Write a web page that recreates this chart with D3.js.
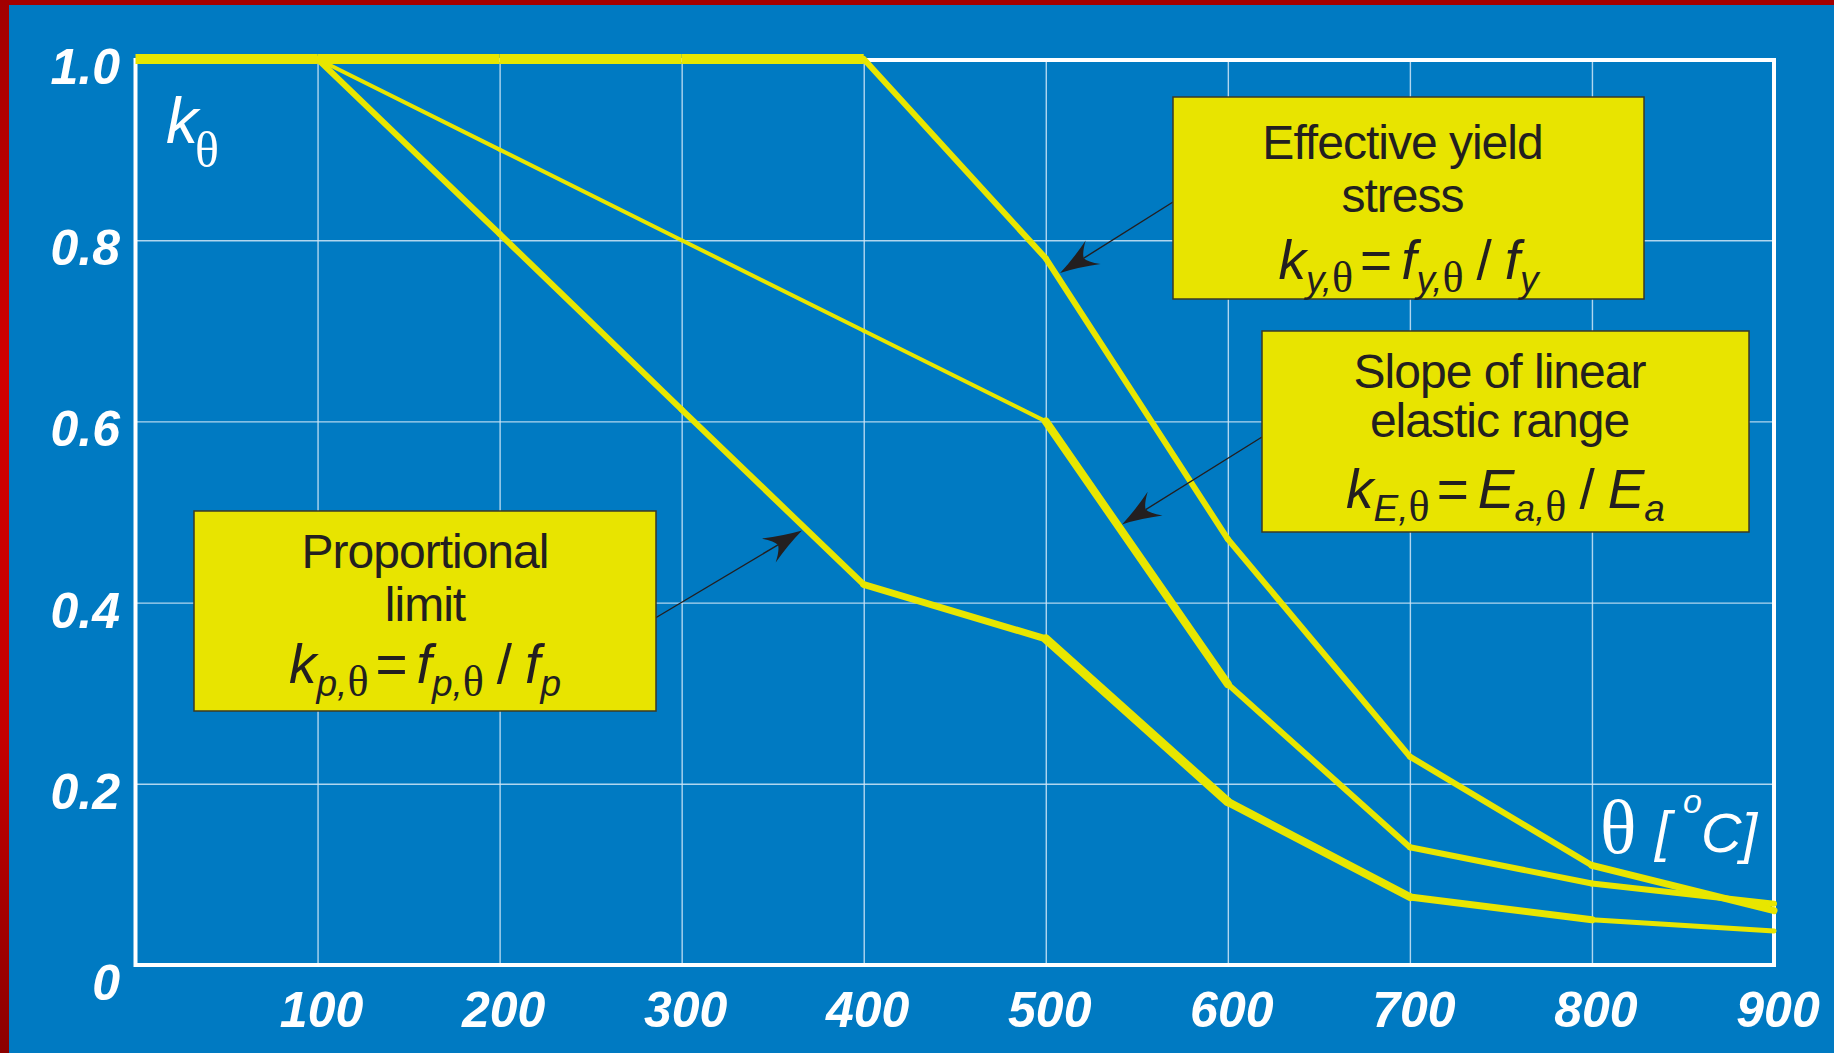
<!DOCTYPE html>
<html>
<head>
<meta charset="utf-8">
<script src="https://cdn.jsdelivr.net/npm/d3@7"></script>
<style>
  html, body { margin: 0; padding: 0; background: #007ac2; overflow: hidden; }
  svg { display: block; }
</style>
</head>
<body>
<svg id="chart" width="1834" height="1053"></svg>
<script>
// Reduction factors for carbon steel at elevated temperature
const tempYield   = [0, 100, 200, 300, 400, 500, 600, 700, 800, 900];
const kYield      = [1.0, 1.0, 1.0, 1.0, 1.0, 0.78, 0.47, 0.23, 0.11, 0.06];

const tempSteel   = [100, 200, 300, 400, 500, 600, 700, 800, 900];
const kElastic    = [1.0, 0.9, 0.8, 0.7, 0.6, 0.31, 0.13, 0.09, 0.0675];
const kProp       = [1.0, 0.807, 0.613, 0.42, 0.36, 0.18, 0.075, 0.05, 0.0375];

const xTicks      = [100, 200, 300, 400, 500, 600, 700, 800, 900];
const xTickLabels = ["100", "200", "300", "400", "500", "600", "700", "800", "900"];
const yTicks      = [0, 0.2, 0.4, 0.6, 0.8, 1.0];
const yTickLabels = ["0", "0.2", "0.4", "0.6", "0.8", "1.0"];

// Temperatures at which the callout arrows touch their curves
const arrowTempYield   = 506;
const arrowTempElastic = 540;
const arrowTempProp    = 368;

// Stroke widths of the individual curve segments
const widthYield   = [10, 10, 10, 10, 6, 6, 6, 6, 7];
const widthElastic = [4, 4, 4, 4, 8, 6, 6, 6];
const widthProp    = [6, 6, 6, 7, 9, 8, 7, 5];

const W = 1834, H = 1053;
const plotLeft = 135.5, plotRight = 1774, plotTop = 59, plotBottom = 965;

const BLUE = "#007ac2", YELLOW = "#e8e600", BOXFILL = "#e8e400", INK = "#231f20";

const svg = d3.select("#chart");
const x = d3.scaleLinear().domain([0, 900]).range([plotLeft, plotRight]);
const y = d3.scaleLinear().domain([0, 1]).range([plotBottom, plotTop]);

// background and red edge
const defs = svg.append("defs");
const grad = defs.append("linearGradient").attr("id", "edge")
  .attr("x1", 0).attr("y1", 0).attr("x2", 0).attr("y2", 1);
grad.append("stop").attr("offset", "0%").attr("stop-color", "#a20000");
grad.append("stop").attr("offset", "35%").attr("stop-color", "#d10000");
grad.append("stop").attr("offset", "70%").attr("stop-color", "#c40000");
grad.append("stop").attr("offset", "100%").attr("stop-color", "#8c0000");

svg.append("rect").attr("width", W).attr("height", H).attr("fill", BLUE);
svg.append("rect").attr("x", 0).attr("y", 0).attr("width", W).attr("height", 5).attr("fill", "#a50000");
svg.append("rect").attr("x", 0).attr("y", 0).attr("width", 9).attr("height", H).attr("fill", "url(#edge)");

// grid
const gridX = svg.append("g").attr("transform", `translate(0,${plotBottom})`)
  .call(d3.axisBottom(x).tickValues(xTicks.slice(0, -1)).tickSize(-(plotBottom - plotTop)).tickFormat(""));
const gridY = svg.append("g").attr("transform", `translate(${plotLeft},0)`)
  .call(d3.axisLeft(y).tickValues(yTicks.slice(1, -1)).tickSize(-(plotRight - plotLeft)).tickFormat(""));
[gridX, gridY].forEach(g => {
  g.select(".domain").remove();
  g.selectAll("line").attr("stroke", "#cfe6f7").attr("stroke-width", 1.4).attr("stroke-opacity", 0.85);
});

// plot frame
svg.append("rect").attr("x", plotLeft).attr("y", plotTop + 1)
  .attr("width", plotRight - plotLeft).attr("height", plotBottom - plotTop - 1)
  .attr("fill", "none").attr("stroke", "#ffffff").attr("stroke-width", 4);

// curves, segment by segment
const line = d3.line().x(d => x(d[0])).y(d => y(d[1]));
function drawCurve(temps, vals, widths) {
  const segs = d3.pairs(d3.zip(temps, vals));
  svg.append("g").selectAll("path").data(segs).join("path")
    .attr("d", d => line(d))
    .attr("fill", "none")
    .attr("stroke", YELLOW)
    .attr("stroke-width", (d, i) => widths[i])
    .attr("stroke-linecap", d => d[0][1] === d[1][1] ? "butt" : "round")
    .attr("stroke-linejoin", "round");
}
drawCurve(tempSteel, kElastic, widthElastic);
drawCurve(tempSteel, kProp, widthProp);
drawCurve(tempYield, kYield, widthYield);

// tick labels
const tickFont = { "font-family": "Liberation Sans, Arial, sans-serif", "font-weight": "bold", "font-style": "italic", "font-size": 50, "fill": "#ffffff" };
function applyAttrs(sel, o) { Object.entries(o).forEach(([k, v]) => sel.attr(k, v)); return sel; }

applyAttrs(svg.append("g").selectAll("text").data(yTicks).join("text"), tickFont)
  .attr("x", 120)
  .attr("y", d => y(d) + (d === 0 ? 35 : 25))
  .attr("text-anchor", "end")
  .text((d, i) => yTickLabels[i]);

applyAttrs(svg.append("g").selectAll("text").data(xTicks).join("text"), tickFont)
  .attr("x", d => x(d) + 4)
  .attr("y", plotBottom + 62)
  .attr("text-anchor", "middle")
  .text((d, i) => xTickLabels[i]);

// axis titles
const kTitle = svg.append("text").attr("fill", "#fff");
kTitle.append("tspan").attr("x", 166).attr("y", 143)
  .attr("font-family", "Liberation Sans, Arial, sans-serif").attr("font-style", "italic").attr("font-size", 64).text("k");
kTitle.append("tspan").attr("x", 195).attr("y", 167)
  .attr("font-family", "Liberation Serif, Times New Roman, serif").attr("font-size", 50).text("θ");

svg.append("text").attr("x", 1600).attr("y", 853).attr("fill", "#fff")
  .attr("font-family", "Liberation Serif, Times New Roman, serif").attr("font-size", 76).text("θ");
const unitFont = { "font-family": "Liberation Sans, Arial, sans-serif", "font-style": "italic", "fill": "#fff" };
applyAttrs(svg.append("text"), unitFont).attr("x", 1655).attr("y", 850).attr("font-size", 56).text("[");
applyAttrs(svg.append("text"), unitFont).attr("x", 1683).attr("y", 813).attr("font-size", 34).text("o");
applyAttrs(svg.append("text"), unitFont).attr("x", 1701).attr("y", 852).attr("font-size", 56).text("C]");

// callout arrows
function interp(temps, vals, t) {
  return d3.scaleLinear().domain(temps).range(vals)(t);
}
function arrow(x0, y0, t, temps, vals) {
  let x1 = x(t), y1 = y(interp(temps, vals, t));
  const dx = x1 - x0, dy = y1 - y0, len = Math.hypot(dx, dy);
  const ux = dx / len, uy = dy / len;
  x1 -= ux * 4; y1 -= uy * 4;
  const ang = Math.atan2(dy, dx) * 180 / Math.PI;
  const g = svg.append("g");
  g.append("line").attr("x1", x0).attr("y1", y0).attr("x2", x1 - ux * 28).attr("y2", y1 - uy * 28)
    .attr("stroke", INK).attr("stroke-width", 1.4);
  g.append("path")
    .attr("d", "M0,0 Q-19,-5 -39,-14 Q-29,-5 -28,0 Q-29,5 -39,14 Q-19,5 0,0 Z")
    .attr("transform", `translate(${x1},${y1}) rotate(${ang})`)
    .attr("fill", INK);
}

// annotation boxes
const textFont = { "font-family": "Liberation Sans, Arial, sans-serif", "font-size": 48, "letter-spacing": -1, "fill": INK };
function box(bx, by, bw, bh, shift, lines, formulaParts, formulaDy) {
  svg.append("rect").attr("x", bx).attr("y", by).attr("width", bw).attr("height", bh)
    .attr("fill", BOXFILL).attr("stroke", "#3b3a24").attr("stroke-width", 1.5);
  const cx = bx + bw / 2;
  lines.forEach(l => {
    applyAttrs(svg.append("text"), textFont).attr("x", cx + shift).attr("y", by + l.dy)
      .attr("text-anchor", "middle").text(l.text);
  });
  const t = svg.append("text").attr("x", cx).attr("y", by + formulaDy)
    .attr("text-anchor", "middle").attr("fill", INK);
  let cur = 0;
  formulaParts.forEach(p => {
    const off = p.sub ? 13 : 0;
    const ts = t.append("tspan").attr("dy", off - cur).text(p.t);
    cur = off;
    if (p.dx) ts.attr("dx", p.dx);
    if (p.serif) {
      ts.attr("font-family", "Liberation Serif, Times New Roman, serif").attr("font-size", 44);
    } else {
      ts.attr("font-family", "Liberation Sans, Arial, sans-serif")
        .attr("font-size", p.sub ? 37 : 55)
        .attr("font-style", p.upright ? "normal" : "italic");
    }
  });
}

const S = (t, extra) => Object.assign({ t, sub: true }, extra || {});
const M = (t, extra) => Object.assign({ t }, extra || {});
const TH = () => ({ t: "θ", sub: true, serif: true });

arrow(1173, 202, arrowTempYield, tempYield, kYield);
arrow(1262, 437, arrowTempElastic, tempSteel, kElastic);
arrow(652, 620, arrowTempProp, tempSteel, kProp);

box(1173, 97, 471, 202, -6,
  [{ text: "Effective yield", dy: 62 }, { text: "stress", dy: 115 }],
  [M("k"), S("y,"), TH(), M("=", { upright: true, dx: 7 }), M("f", { dx: 9 }), S("y,"), TH(),
   M("/", { upright: true, dx: 13 }), M("f", { dx: 13 }), S("y")],
  182);

box(1262, 331, 487, 201, -6,
  [{ text: "Slope of linear", dy: 57 }, { text: "elastic range", dy: 106 }],
  [M("k"), S("E,"), TH(), M("=", { upright: true, dx: 7 }), M("E", { dx: 9 }), S("a,"), TH(),
   M("/", { upright: true, dx: 13 }), M("E", { dx: 13 }), S("a")],
  177);

box(194, 511, 462, 200, 0,
  [{ text: "Proportional", dy: 57 }, { text: "limit", dy: 110 }],
  [M("k"), S("p,"), TH(), M("=", { upright: true, dx: 7 }), M("f", { dx: 9 }), S("p,"), TH(),
   M("/", { upright: true, dx: 13 }), M("f", { dx: 13 }), S("p")],
  172);
</script>
</body>
</html>
